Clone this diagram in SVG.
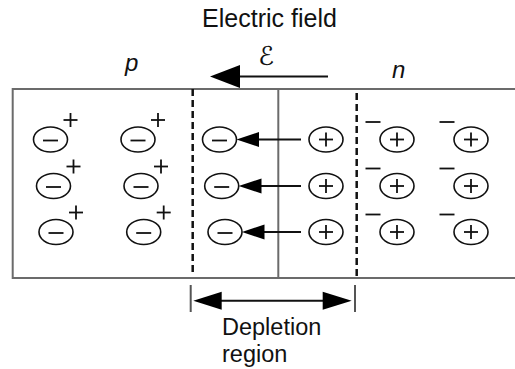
<svg xmlns="http://www.w3.org/2000/svg" xmlns:xlink="http://www.w3.org/1999/xlink" width="515" height="369" viewBox="0 0 515 369">
<style>
.frame{fill:none;stroke:#6b6b6b;stroke-width:2}
.dash{fill:none;stroke:#111;stroke-width:2.5;stroke-dasharray:7 4}
.ring{fill:none;stroke:#111;stroke-width:1.6}
.sign{stroke:#111;stroke-width:1.8;fill:none}
.wire{stroke:#111;stroke-width:2;fill:none}
.head{fill:#000;stroke:none}
.tick{stroke:#555;stroke-width:2}
.lbl{font-family:"Liberation Sans",Arial,Helvetica,sans-serif;fill:#111}
</style>
<defs>
<g id="neg"><ellipse class="ring" cx="0" cy="0" rx="17" ry="12.5"/><line class="sign" x1="-7.5" y1="1" x2="7.5" y2="1"/></g>
<g id="pos"><ellipse class="ring" cx="0" cy="0" rx="17" ry="12.5"/><line class="sign" x1="-7" y1="0" x2="7" y2="0"/><line class="sign" x1="0" y1="-7" x2="0" y2="7"/></g>
<g id="acc"><use xlink:href="#neg"/><line class="sign" x1="13" y1="-19.5" x2="27" y2="-19.5"/><line class="sign" x1="20" y1="-26.5" x2="20" y2="-12.5"/></g>
<g id="don"><use xlink:href="#pos"/><line class="sign" x1="-31.5" y1="-17.5" x2="-16.5" y2="-17.5"/></g>
</defs>

<g id="crystal">
<path class="frame" d="M520,89 H12.7 V278 H520"/>
<line class="frame" x1="278.3" y1="89" x2="278.3" y2="278"/>
<line class="dash" x1="192.7" y1="89" x2="192.7" y2="272"/>
<line class="dash" x1="356.7" y1="93" x2="356.7" y2="276"/>
</g>

<g id="labels">
<text class="lbl" x="269.5" y="27" font-size="25" text-anchor="middle">Electric field</text>
<text class="lbl" x="125" y="71" font-size="24" font-style="italic">p</text>
<text class="lbl" x="392" y="78" font-size="24" font-style="italic">n</text>
<text x="266" y="65" font-size="26" text-anchor="middle" font-family="'DejaVu Sans','DejaVu Serif',serif" fill="#111">ℰ</text>
<text class="lbl" x="222" y="335" font-size="23.5">Depletion</text>
<text class="lbl" x="222" y="361.5" font-size="23.5">region</text>
</g>

<g id="p-acceptors">
<use id="a11" xlink:href="#acc" x="50.5" y="139.5"/>
<use id="a21" xlink:href="#acc" x="53.5" y="186"/>
<use id="a31" xlink:href="#acc" x="56" y="232"/>
<use id="a12" xlink:href="#acc" x="138" y="139.5"/>
<use id="a22" xlink:href="#acc" x="141" y="186"/>
<use id="a32" xlink:href="#acc" x="143.7" y="232"/>
</g>
<g id="depletion-negative">
<use id="dn1" xlink:href="#neg" x="219.5" y="139.5"/>
<use id="dn2" xlink:href="#neg" x="221.7" y="186"/>
<use id="dn3" xlink:href="#neg" x="225" y="232"/>
</g>
<g id="depletion-positive">
<use id="dp1" xlink:href="#pos" x="326" y="139.5"/>
<use id="dp2" xlink:href="#pos" x="326" y="186"/>
<use id="dp3" xlink:href="#pos" x="326" y="232"/>
</g>
<g id="n-donors">
<use id="d11" xlink:href="#don" x="397" y="139.5"/>
<use id="d21" xlink:href="#don" x="397" y="186"/>
<use id="d31" xlink:href="#don" x="397" y="232"/>
<use id="d12" xlink:href="#don" x="471" y="139.5"/>
<use id="d22" xlink:href="#don" x="471" y="186"/>
<use id="d32" xlink:href="#don" x="471" y="232"/>
</g>

<g id="connectors">
<line class="wire" x1="238" y1="76.5" x2="328" y2="76.5"/>
<polygon class="head" points="210,76.5 240,65 240,88"/>
<line class="wire" x1="255" y1="139.5" x2="301" y2="139.5"/>
<polygon class="head" points="236.5,139.5 259,132 259,147"/>
<line class="wire" x1="257" y1="186" x2="301" y2="186"/>
<polygon class="head" points="238.7,186 261.5,178.5 261.5,193.5"/>
<line class="wire" x1="260" y1="232" x2="301" y2="232"/>
<polygon class="head" points="242,232 264.5,224.5 264.5,239.5"/>
<line class="tick" x1="190.7" y1="285" x2="190.7" y2="312"/>
<line class="tick" x1="355" y1="285" x2="355" y2="312"/>
<line class="wire" x1="218" y1="300.7" x2="326" y2="300.7"/>
<polygon class="head" points="193.3,300.7 221.7,291.7 221.7,309.7"/>
<polygon class="head" points="351.7,300.7 322.7,291.7 322.7,309.7"/>
</g>
</svg>
